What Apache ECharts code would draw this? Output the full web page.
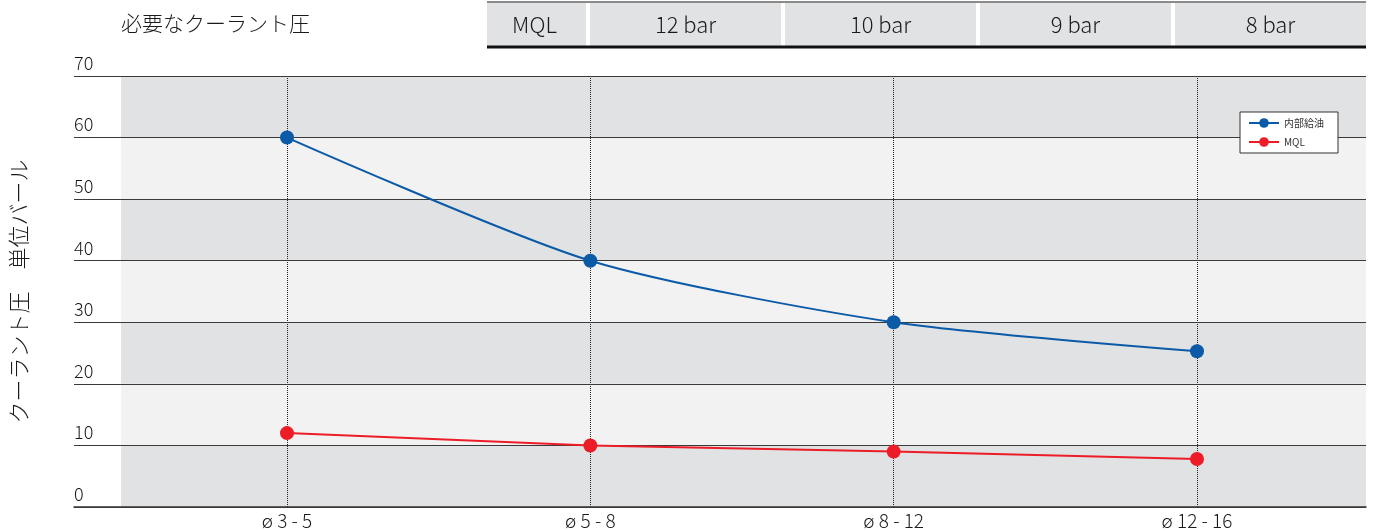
<!DOCTYPE html>
<html>
<head>
<meta charset="utf-8">
<script src="https://cdn.jsdelivr.net/npm/echarts@6/dist/echarts.min.js"></script>
<style>
  html, body { margin: 0; padding: 0; background: #fff; }
  #chart { width: 1373px; height: 531px; }
</style>
</head>
<body>
<div id="chart"></div>
<script>
// data
const categories = ['ø 3 - 5', 'ø 5 - 8', 'ø 8 - 12', 'ø 12 - 16']
const internalValues = [60, 40, 30, 25.3]
const mqlValues = [12, 10, 9, 7.8]
const seriesNames = ['内部給油', 'MQL']
const tableTitle = '必要なクーラント圧'
const pressureLabels = ['MQL', '12 bar', '10 bar', '9 bar', '8 bar']
const yAxisTitle = 'クーラント圧　単位バール'

const FONT = "'Noto Sans CJK JP', sans-serif"
const TOP = 76
const BOTTOM = 24

// table cells across the top (decoration, not data marks)
const buildTable = () => {
  const els = []
  const left = 487
  const widths = [99, 191, 191, 191, 191]
  const gap = 4
  let x = left
  widths.forEach((w, i) => {
    els.push({
      type: 'rect',
      shape: { x: x, y: 3, width: w, height: 44 },
      style: { fill: '#e1e2e4' },
      silent: true
    })
    els.push({
      type: 'text',
      x: x + w / 2 + (i === 0 ? -2 : 0),
      y: 25,
      style: {
        text: pressureLabels[i],
        fontSize: 22,
        fontWeight: 300,
        fontFamily: FONT,
        fill: '#1a1a1a',
        align: 'center',
        verticalAlign: 'middle'
      },
      silent: true
    })
    x += w + gap
  })
  const right = x - gap
  els.push({
    type: 'line',
    shape: { x1: left, y1: 2, x2: right, y2: 2 },
    style: { stroke: '#8a8a8a', lineWidth: 2 },
    silent: true
  })
  els.push({
    type: 'line',
    shape: { x1: left, y1: 47, x2: right, y2: 47 },
    style: { stroke: '#111', lineWidth: 3 },
    silent: true
  })
  els.push({
    type: 'text',
    x: 121,
    y: 23,
    style: {
      text: tableTitle,
      fontSize: 21,
      fontWeight: 300,
      fontFamily: FONT,
      fill: '#1a1a1a',
      verticalAlign: 'middle'
    },
    silent: true
  })
  return els
}

const myChart = echarts.init(document.getElementById('chart'))

const option = {
  animation: false,
  grid: [
    // lines + y labels
    { left: 62, right: 7, top: TOP, bottom: BOTTOM },
    // shaded bands
    { left: 121, right: 7, top: TOP, bottom: BOTTOM },
    // data
    { left: 287, right: 176, top: TOP, bottom: BOTTOM }
  ],
  xAxis: [
    {
      gridIndex: 0,
      type: 'value',
      min: 0,
      max: 1,
      axisLine: { show: true, onZero: false, lineStyle: { color: '#333', width: 1.5 } },
      axisTick: { show: false },
      axisLabel: { show: false },
      splitLine: { show: false }
    },
    {
      gridIndex: 1,
      type: 'value',
      min: 0,
      max: 1,
      show: false
    },
    {
      gridIndex: 2,
      type: 'category',
      data: categories,
      boundaryGap: false,
      axisLine: { show: false },
      axisTick: { show: false },
      axisLabel: { fontSize: 19, fontWeight: 300, color: '#1a1a1a', fontFamily: FONT, margin: 4 },
      splitLine: { show: true, lineStyle: { type: 'dotted', color: '#222', width: 1 } }
    }
  ],
  yAxis: [
    {
      gridIndex: 0,
      type: 'value',
      min: 0,
      max: 70,
      interval: 10,
      name: yAxisTitle,
      nameLocation: 'middle',
      nameRotate: 90,
      nameGap: 44,
      nameTextStyle: { fontSize: 22, fontWeight: 300, color: '#1a1a1a', fontFamily: FONT },
      axisLine: { show: false },
      axisTick: { show: false },
      axisLabel: {
        inside: true,
        align: 'left',
        verticalAlign: 'bottom',
        margin: 0,
        padding: [0, 0, 4, 0],
        fontSize: 18,
        fontWeight: 300,
        color: '#1a1a1a',
        fontFamily: FONT
      },
      splitLine: { show: true, lineStyle: { color: '#3a3a3a', width: 1 } },
      z: 3
    },
    {
      gridIndex: 1,
      type: 'value',
      min: 0,
      max: 70,
      interval: 10,
      axisLine: { show: false },
      axisTick: { show: false },
      axisLabel: { show: false },
      splitLine: { show: false },
      splitArea: { show: true, areaStyle: { color: ['#e1e2e4', '#f2f2f2'] } },
      z: 0
    },
    {
      gridIndex: 2,
      type: 'value',
      min: 0,
      max: 70,
      interval: 10,
      show: false,
      splitLine: { show: false }
    }
  ],
  legend: {
    data: seriesNames,
    orient: 'vertical',
    left: 1240,
    top: 112,
    backgroundColor: '#fff',
    borderColor: '#333',
    borderWidth: 1,
    borderRadius: 0,
    padding: [6, 14, 6, 8],
    itemGap: 9,
    itemWidth: 30,
    itemHeight: 12,
    textStyle: { fontSize: 10, color: '#333', fontFamily: FONT }
  },
  series: [
    {
      name: seriesNames[0],
      type: 'line',
      xAxisIndex: 2,
      yAxisIndex: 2,
      data: internalValues,
      smooth: 0.25,
      symbol: 'circle',
      symbolSize: 14,
      color: '#0b5aa8',
      lineStyle: { width: 2, color: '#0b5aa8' },
      itemStyle: { color: '#0b5aa8' },
      z: 5
    },
    {
      name: seriesNames[1],
      type: 'line',
      xAxisIndex: 2,
      yAxisIndex: 2,
      data: mqlValues,
      symbol: 'circle',
      symbolSize: 14,
      color: '#ec1d27',
      lineStyle: { width: 2, color: '#ec1d27' },
      itemStyle: { color: '#ec1d27' },
      z: 5
    }
  ],
  graphic: buildTable()
}

myChart.setOption(option)
</script>
</body>
</html>
